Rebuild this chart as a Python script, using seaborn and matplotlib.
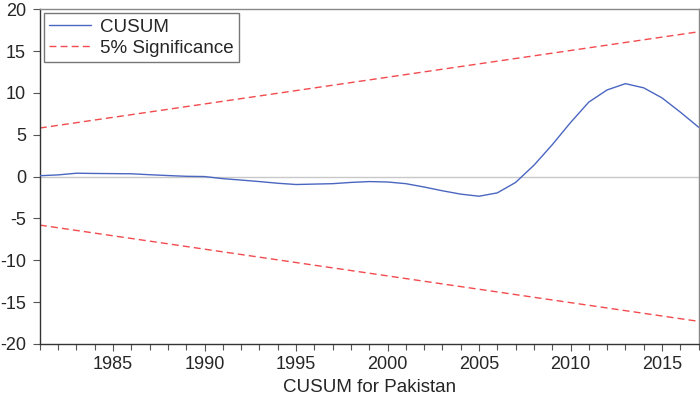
import pandas as pd
import matplotlib
matplotlib.use("Agg")
import matplotlib.pyplot as plt
import seaborn as sns

# CUSUM values
years = list(range(1981, 2018))
cusum = [0.1, 0.2, 0.4, 0.37, 0.35, 0.33, 0.22, 0.12, 0.03, 0.0,
         -0.25, -0.42, -0.6, -0.8, -0.95, -0.9, -0.85, -0.7, -0.6, -0.65,
         -0.85, -1.25, -1.7, -2.1, -2.35, -1.95, -0.7, 1.35, 3.8, 6.45,
         8.9, 10.35, 11.1, 10.6, 9.4, 7.7, 5.9]

# 5% significance bounds (straight lines, endpoints)
sig_years = [1981, 2017]
sig_upper = [5.8, 17.3]
sig_lower = [-5.8, -17.3]

x_ticks = [1985, 1990, 1995, 2000, 2005, 2010, 2015]
y_ticks = [-20, -15, -10, -5, 0, 5, 10, 15, 20]

sns.set_style("ticks")
plt.rcParams['font.family'] = ['Liberation Sans', 'DejaVu Sans']
plt.rcParams['axes.unicode_minus'] = False

df = pd.DataFrame({'year': years, 'cusum': cusum})
sig = pd.DataFrame({'year': sig_years, 'upper': sig_upper, 'lower': sig_lower})

fig = plt.figure(figsize=(7, 3.99), dpi=100)
ax = fig.add_axes([0.057, 0.138, 0.941, 0.839])

ax.axhline(0, color='#c8c8c8', lw=1, zorder=1)
sns.lineplot(x='year', y='cusum', data=df, ax=ax, color='#4a66c0', lw=1,
             label='CUSUM', zorder=3)
sns.lineplot(x='year', y='upper', data=sig, ax=ax, color='#f24a4e', lw=1,
             linestyle=(0, (5, 3)), label='5% Significance', zorder=2)
sns.lineplot(x='year', y='lower', data=sig, ax=ax, color='#f24a4e', lw=1,
             linestyle=(0, (5, 3)), zorder=2)

ax.set_xlim(1981, 2017)
ax.set_ylim(-20, 20)
ax.set_xticks(x_ticks)
ax.set_xticks(years, minor=True)
ax.set_yticks(y_ticks)
ax.tick_params(axis='both', which='major', direction='out', length=5,
               width=0.8, color='#555555', labelsize=13)
ax.tick_params(axis='x', which='minor', direction='out', length=4,
               width=0.8, color='#555555')
ax.tick_params(axis='x', pad=4)
ax.tick_params(axis='y', pad=5)
ax.set_xlabel('CUSUM for Pakistan', fontsize=13.5, labelpad=4)
ax.set_ylabel('')

for s in ['left', 'bottom']:
    ax.spines[s].set_color('#333333')
    ax.spines[s].set_linewidth(1)
for s in ['top', 'right']:
    ax.spines[s].set_visible(True)
    ax.spines[s].set_color('#888888')
    ax.spines[s].set_linewidth(1)

leg = ax.legend(loc='upper left', fontsize=13.5, frameon=True, fancybox=False,
                edgecolor='#555555', borderpad=0.3, labelspacing=0.2,
                handlelength=2.2, handletextpad=0.5, borderaxespad=0.2)
leg.get_frame().set_linewidth(1)

fig.savefig('out.png', dpi=100)
